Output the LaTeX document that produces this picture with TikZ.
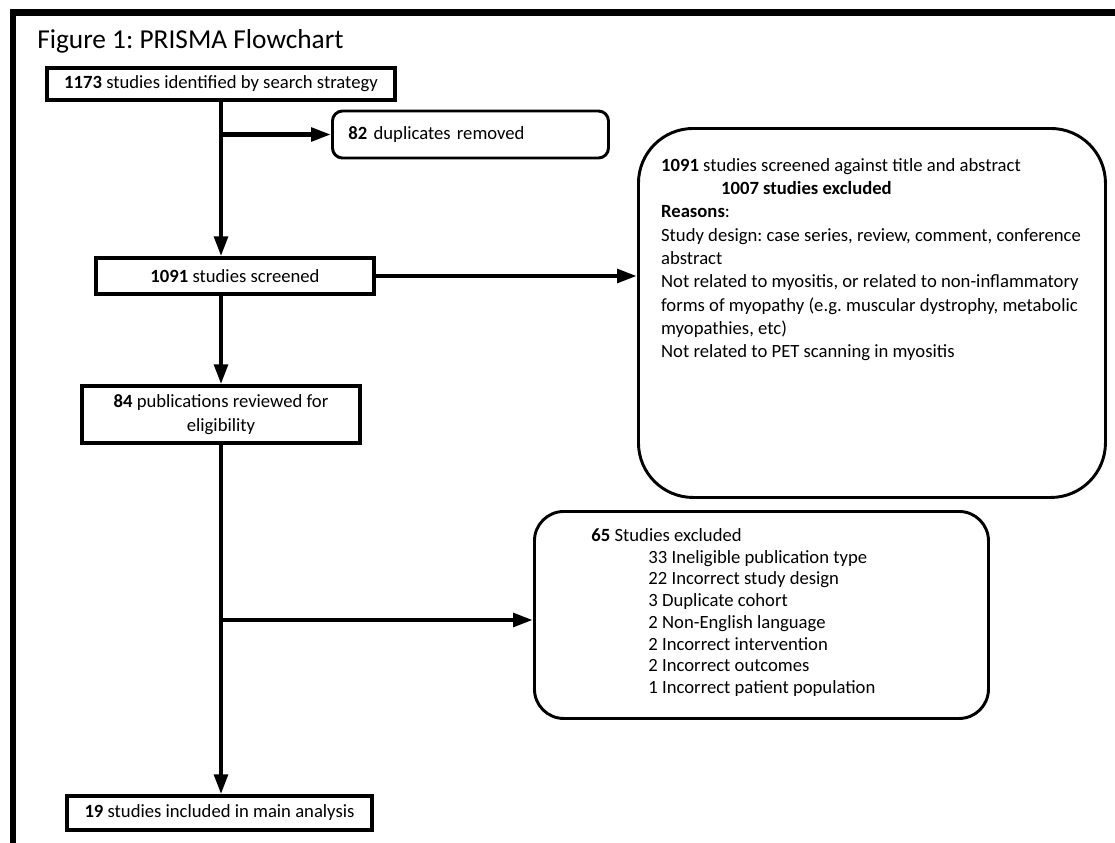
\documentclass[tikz,border=0pt]{standalone}
\usepackage{fontspec}
\setmainfont{Carlito}
\usetikzlibrary{arrows.meta}
\frenchspacing
\begin{document}
\begin{tikzpicture}[x=0.75pt,y=-0.75pt,font=\fontsize{14}{17.5}\selectfont]
          \tikzstyle{box}=[draw,line width=2.4pt,align=center,inner sep=0pt]
          \tikzstyle{rbox}=[draw,line width=2.2pt,inner sep=0pt,anchor=north west]
          \tikzstyle{flow}=[line width=3.4pt,-{Triangle[length=15pt,width=10pt]}]
          \useasboundingbox (0,0) rectangle (1115,843);
          \draw[line width=5pt] (13,843) -- (13,12.5) -- (1115,12.5);
          \node[anchor=base west,inner sep=0pt,font=\fontsize{20.5}{24}\selectfont] (title) at (37,48) {Figure 1: PRISMA Flowchart};
          \node[box,minimum width=261pt,minimum height=24pt] (ident) at (221,84) {\textbf{1173} studies identified by search strategy};
          \node[rbox,rounded corners=7.5pt,inner xsep=12pt,text width=183pt,minimum height=35.25pt,anchor=west,align=left] (dup) at (331,134.5) {\textbf{82} duplicates removed};
          \node[box,minimum width=208.5pt,minimum height=27pt] (screened) at (235,276) {\textbf{1091} studies screened};
          \node[rbox,rounded corners=41pt,inner xsep=17pt] (screen) at (637,127) {\parbox[c][276.75pt][t]{316.25pt}{\raggedright
              \vspace*{19.75pt}\strut\textbf{1091} studies screened against title and abstract\\
              \hspace*{45pt}\textbf{1007 studies excluded}\\
              \textbf{Reasons}:\\
              Study design: case series, review, comment, conference\\
              abstract\\
              Not related to myositis, or related to non-inflammatory\\
              forms of myopathy (e.g. muscular dystrophy, metabolic\\
              myopathies, etc)\\
              Not related to PET scanning in myositis}};
          \node[box,minimum width=208.5pt,minimum height=42.75pt] (review) at (221,414.5) {\textbf{84} publications reviewed for\\eligibility};
          \node[rbox,rounded corners=22pt,inner xsep=42.75pt,font=\fontsize{14}{16.3}\selectfont] (excl) at (533,510) {\parbox[c][155.25pt][t]{255pt}{\raggedright
              \vspace*{11.1pt}\strut\textbf{65} Studies excluded\\
              \hspace*{42.75pt}33 Ineligible publication type\\
              \hspace*{42.75pt}22 Incorrect study design\\
              \hspace*{42.75pt}3 Duplicate cohort\\
              \hspace*{42.75pt}2 Non-English language\\
              \hspace*{42.75pt}2 Incorrect intervention\\
              \hspace*{42.75pt}2 Incorrect outcomes\\
              \hspace*{42.75pt}1 Incorrect patient population}};
          \node[box,minimum width=228.75pt,minimum height=25.5pt] (incl) at (219.5,813) {\textbf{19} studies included in main analysis};
          \coordinate (split) at (221,620);
          \draw[flow] (ident.south) -- (ident.south |- screened.north);
          \draw[flow] (ident.south |- dup.west) -- (dup.west);
          \draw[flow] (screened.east) -- (screened.east -| screen.west);
          \draw[flow] (ident.south |- screened.south) -- (review.north);
          \draw[flow] (review.south) -- (review.south |- incl.north);
          \draw[flow] (split) -- (split -| excl.west);
      \end{tikzpicture}
\end{document}
